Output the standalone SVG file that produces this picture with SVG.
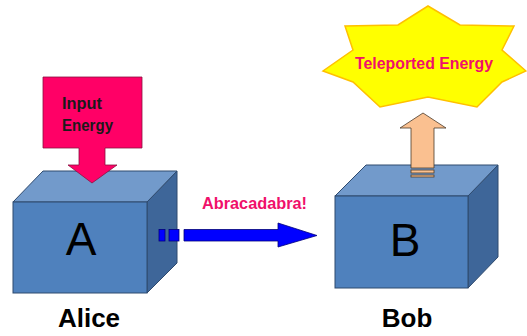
<svg xmlns="http://www.w3.org/2000/svg" width="527" height="336" viewBox="0 0 527 336">
  <style>
    .front { fill: #4F81BD; stroke: #2E4A6E; stroke-width: 1; }
    .top { fill: #729ACB; stroke: #2E4A6E; stroke-width: 1; }
    .side { fill: #3E6699; stroke: #2E4A6E; stroke-width: 1; }
    .letter { font-family: "Liberation Sans", Arial, sans-serif; font-size: 46px; fill: #000; text-anchor: middle; }
    .name { font-family: "Liberation Sans", Arial, sans-serif; font-size: 26px; font-weight: bold; fill: #000; text-anchor: middle; }
    .pink { font-family: "Liberation Sans", Arial, sans-serif; font-weight: bold; fill: #F0106A; }
    .label { font-family: "Liberation Sans", Arial, sans-serif; font-size: 16px; font-weight: bold; fill: #1A1A1A; }
  </style>

  <!-- Alice's box -->
  <g id="box-a">
    <polygon class="side" points="147,202 177,171 177,263 147,293"/>
    <polygon class="top" points="13,202 43,171 177,171 147,202"/>
    <rect class="front" x="13" y="202" width="134" height="91"/>
    <text class="letter" x="81" y="255">A</text>
  </g>

  <!-- Bob's box -->
  <g id="box-b">
    <polygon class="side" points="468,196 498,165 498,257 468,288"/>
    <polygon class="top" points="335,196 366,165 498,165 468,196"/>
    <rect class="front" x="335" y="196" width="133" height="92"/>
    <text class="letter" x="405" y="256">B</text>
  </g>

  <!-- Names under the boxes -->
  <g id="name-alice"><text class="name" x="89" y="327">Alice</text></g>
  <g id="name-bob"><text class="name" x="407" y="327">Bob</text></g>

  <!-- Teleported energy burst -->
  <g id="burst">
    <polygon points="428,6 460,25 514,26 502,50 526,71 502,82 477,107 428,97 380,107 353,82 323,71 353,50 345,26 398,25"
             fill="#FFFF00" stroke="#FFC000" stroke-width="1.5" stroke-linejoin="miter"/>
    <text class="pink" x="355" y="68.5" font-size="16" textLength="138" lengthAdjust="spacingAndGlyphs">Teleported Energy</text>
  </g>

  <!-- Block arrows -->
  <g id="connectors">
    <!-- input energy into A -->
    <g id="input-arrow">
      <polygon points="43,77 142,77 142,148 105,148 105,165 117,165 92,183 68,165 79,165 79,148 43,148"
               fill="#FF0066" stroke="#8A1040" stroke-width="0.8"/>
      <text class="label" x="62" y="109" textLength="40" lengthAdjust="spacingAndGlyphs">Input</text>
      <text class="label" x="62" y="131" textLength="51" lengthAdjust="spacingAndGlyphs">Energy</text>
    </g>

    <!-- A to B transfer -->
    <g id="transfer-arrow" fill="#0000FF" stroke="#00007A" stroke-width="0.8">
      <rect x="159" y="229.5" width="6" height="11.5"/>
      <rect x="169" y="229.5" width="10" height="11.5"/>
      <polygon points="184,229.5 278,229.5 278,223 317,235.5 278,247 278,241 184,241"/>
    </g>
    <text class="pink" x="202" y="209" font-size="17" textLength="105" lengthAdjust="spacingAndGlyphs">Abracadabra!</text>

    <!-- output from B -->
    <g id="output-arrow" fill="#FAC090" stroke="#4A3A2A" stroke-width="0.8">
      <polygon points="411,168 411,128 400,128 423,113 446,128 434,128 434,168"/>
      <rect x="411" y="170" width="23" height="3"/>
      <rect x="411" y="175" width="23" height="2"/>
    </g>
  </g>
</svg>
